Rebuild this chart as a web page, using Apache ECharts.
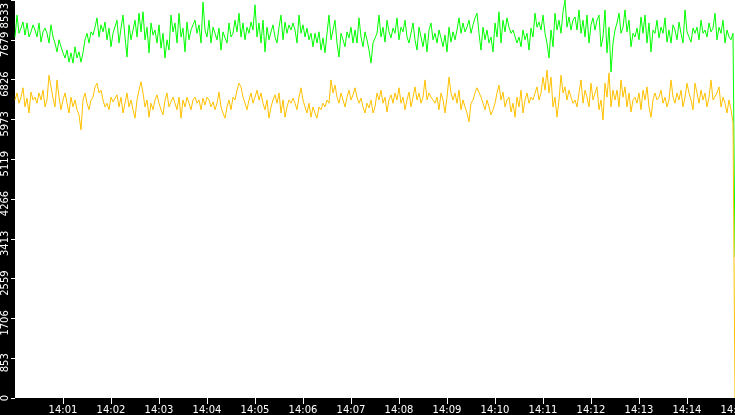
<!DOCTYPE html>
<html>
<head>
<meta charset="utf-8">
<script src="https://cdn.jsdelivr.net/npm/echarts@6/dist/echarts.min.js"></script>
<style>
  html, body { margin: 0; padding: 0; background: #000; }
  #chart { width: 735px; height: 415px; }
</style>
</head>
<body>
<div id="chart"></div>
<script>
// samples every 2.5 s, starting 14:00:00
const sampleStep = 2.5;

const greenValues = [
  7740,8210,7820,7930,8060,7780,8040,7740,7850,8000,
  7890,7740,8040,7630,7850,7930,7820,7610,8000,7740,
  7610,7420,7680,7530,7400,
  7290,7460,7200,7400,7180,7530,7290,7420,7200,7400,
  7680,7820,7610,7850,7780,
  7950,8150,7740,8000,7850,8060,7680,7930,7530,7820,
  7820,8100,7610,7930,8210,7740,7310,8000,7680,7890,
  8100,7740,8250,7850,8280,7680,7950,7400,8040,7780,
  7890,7610,8000,7500,7820,7290,7680,7460,8210,7850,
  8040,7610,8250,7740,7930,7420,8060,7680,7890,8000,

  8100,7820,8000,7610,8490,7890,7740,8100,7610,7950,
  7820,7680,7930,7460,7850,7720,7610,8040,7740,7820,
  8100,7850,8250,7740,8040,7680,7950,7820,8060,7890,
  8430,7740,8040,7610,8100,7420,7950,7680,7850,8000,
  7740,7610,7950,8210,7680,8060,7820,8000,7890,8040,
  7890,7610,8210,7820,8000,7740,7930,7680,7820,7530,
  7820,7610,7850,7460,7720,7400,7820,8210,7680,7890,
  8100,7610,7310,7820,7680,7530,7850,7720,7950,7610,
  7890,7610,8150,7740,7530,7850,7680,7460,7180,7610,

  7610,7820,8210,7740,7950,7630,8100,7850,7720,7930,
  7820,8150,7680,7950,7850,8100,7740,7610,7820,8040,
  7680,7460,7950,7740,7530,7820,7420,7890,8040,7680,
  7820,7610,7890,7720,7530,7780,7420,7950,7630,7850,
  7680,7890,8150,7820,8040,7850,7950,8100,7820,8000,
  8150,8250,7820,7460,7950,7680,7890,7610,7740,7420,
  8040,7740,8280,7610,8100,7850,8150,7950,7820,7890,
  7850,7610,7740,7530,7890,7680,7820,7460,7930,7740,
  8250,7950,8060,7890,8210,7820,7610,7290,7890,7530,

  8250,7890,8100,7820,8280,8530,7950,8170,7890,8100,
  8170,7890,8320,7820,8100,7740,8210,7610,8000,8150,
  7890,8100,8210,7530,7740,8320,7400,7950,6990,7610,
  7890,8040,8250,7820,7950,8320,7850,8100,7530,7820,
  7740,7930,7680,8170,7820,8210,7610,8040,7420,7890,
  7820,8100,7720,7950,7820,8150,7630,7890,7610,8000,
  7890,7680,8060,7820,7610,8320,7850,7740,7630,7930,
  7820,7950,7680,8100,7820,7890,7740,8040,7850,7930,
  8250,7680,7950,7820,8100,7610,7890,7740,7680,7820,
  3020
];

const orangeValues = [
  6390,6540,6320,6450,6650,6240,6430,6110,6560,6390,
  6450,6320,6540,6390,6600,6240,6390,6920,6670,6430,
  6240,6820,6450,6180,6390,6540,6320,6110,6450,6240,
  6390,6180,6070,5750,6390,6540,6320,6180,6390,6450,
  6670,6750,6540,6600,6390,6240,6320,6180,6450,6350,
  6390,6500,6240,6450,6110,6320,6540,6240,6390,6180,
  6000,6390,6600,6780,6540,6240,6390,6020,6320,6180,
  6390,6500,6320,6180,6070,6390,6540,6240,6350,6450,
  6320,6180,6450,6000,6390,6240,6450,6320,6180,6390,

  6450,6320,6390,6180,6430,6280,6450,6390,6240,6350,
  6180,6320,6560,6240,6110,6000,6240,6390,6180,6450,
  6390,6600,6750,6670,6450,6320,6180,6390,6540,6320,
  6450,6600,6390,6540,6320,6180,6390,6000,6240,6390,
  6500,6320,6540,6110,6390,6020,6240,6390,6320,6430,
  6320,6180,6450,6650,6390,6240,6110,6320,6020,6240,
  6110,6000,6240,6180,6320,6240,6390,6320,6820,6540,
  6710,6450,6320,6540,6390,6240,6450,6600,6390,6500,
  6650,6450,6320,6430,6240,6110,6320,6220,6390,6110,

  6240,6540,6390,6600,6320,6450,6130,6390,6500,6320,
  6540,6390,6650,6320,6450,6180,6390,6560,6240,6450,
  6670,6390,6540,6320,6450,6820,6390,6540,6450,6390,
  6320,6450,6180,6540,6390,6110,6450,6880,6540,6390,
  6540,6320,6600,6180,6390,6240,6110,5920,6320,6390,
  6540,6650,6670,6450,6320,6180,6390,6240,6070,6180,
  6320,6540,6710,6390,6560,6240,6390,6450,6130,6320,
  6020,6450,6240,6600,6110,6390,6540,6320,6450,6390,
  6540,6670,6390,6540,6880,6600,7030,6540,6880,6240,

  6450,6020,6390,6920,6540,6670,6390,6600,6450,6320,
  6390,6240,6540,6820,6320,6600,6450,6240,6750,6390,
  6540,6670,6180,6390,5960,6750,6450,6970,6240,6600,
  6390,6600,6240,6820,6450,6670,6240,6540,6130,6390,
  6450,6320,6540,6180,6600,6390,6670,6240,6020,6390,
  6540,6390,6450,6600,6320,6450,6240,6390,6820,6450,
  6320,6540,6390,6600,6240,6450,6750,6540,6390,6180,
  6750,6540,6320,6600,6390,6540,6240,6450,6820,6390,
  6390,6540,6670,6240,6450,6320,6110,6390,6180,5900,
  0
];

const xTickLabels = ['14:00','14:01','14:02','14:03','14:04','14:05','14:06','14:07',
  '14:08','14:09','14:10','14:11','14:12','14:13','14:14','14:15'];
const yTickLabels = ['0','853','1706','2559','3413','4266','5119','5973','6826','7679','8533'];

const yMax = 8533;
const yInterval = yMax / 10;
const xMax = 900;

function toPoints(values) {
  return values.map((v, i) => [i * sampleStep, v]);
}

const labelFont = { color: '#fff', fontFamily: 'DejaVu Sans', fontSize: 10 };

const chart = echarts.init(document.getElementById('chart'));

chart.setOption({
  backgroundColor: '#000',
  animation: false,
  grid: {
    left: 15, right: 0, top: 0, bottom: 17,
    outerBoundsMode: 'none',
    containLabel: false,
    show: true, backgroundColor: '#fff', borderWidth: 0
  },
  xAxis: {
    type: 'value',
    min: 0,
    max: xMax,
    interval: 60,
    axisLine: { show: false },
    axisTick: { show: true, length: 6, lineStyle: { color: '#fff', width: 1 } },
    splitLine: { show: false },
    axisLabel: {
      ...labelFont,
      margin: 7,
      showMinLabel: false,
      formatter: v => xTickLabels[Math.round(v / 60)]
    }
  },
  yAxis: {
    type: 'value',
    min: 0,
    max: yMax,
    interval: yInterval,
    axisLine: { show: false },
    axisTick: { show: true, length: 4, lineStyle: { color: '#fff', width: 1 } },
    splitLine: { show: false },
    axisLabel: {
      ...labelFont,
      rotate: 90,
      margin: 5,
      alignMaxLabel: 'right',
      // labels sit a little below their ticks, the top one hangs under the edge
      formatter: v => {
        const i = Math.round(v / yInterval);
        if (i === 0) return '{z|' + yTickLabels[i] + '}';
        if (i === yTickLabels.length - 1) return '{t|' + yTickLabels[i] + '}';
        return '{n|' + yTickLabels[i] + '}';
      },
      rich: {
        n: { ...labelFont, padding: [0, 9, 0, 0] },
        t: { ...labelFont, padding: [0, 3, 0, 0] },
        z: { ...labelFont }
      }
    }
  },
  series: [
    {
      name: 'green',
      type: 'line',
      data: toPoints(greenValues),
      showSymbol: false,
      lineStyle: { color: '#00ff00', width: 1 },
      itemStyle: { color: '#00ff00' }
    },
    {
      name: 'orange',
      type: 'line',
      data: toPoints(orangeValues),
      showSymbol: false,
      lineStyle: { color: '#ffc000', width: 1 },
      itemStyle: { color: '#ffc000' }
    }
  ]
});
</script>
</body>
</html>
